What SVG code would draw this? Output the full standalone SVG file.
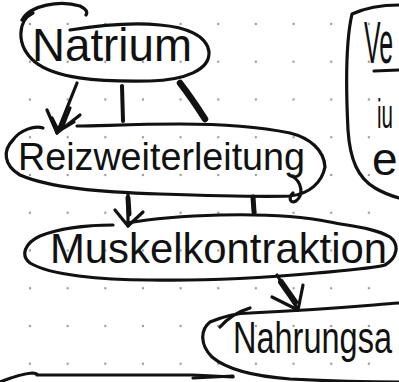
<svg xmlns="http://www.w3.org/2000/svg" width="399" height="382" viewBox="0 0 399 382">
<style>
.ink{fill:none;stroke:#111;stroke-width:3.2;stroke-linecap:round;stroke-linejoin:round}
.thick{fill:none;stroke:#111;stroke-width:6;stroke-linecap:round;stroke-linejoin:round}
.lbl{font-family:"Liberation Sans",Arial,sans-serif;fill:#111}
</style>
<defs>
<pattern id="dots" patternUnits="userSpaceOnUse" x="11.2" y="5.1" width="37.65" height="37.75">
<circle cx="18.8" cy="18.9" r="1.2" fill="#9a9a9a"/>
</pattern>
</defs>
<rect width="399" height="382" fill="#fff"/>
<rect width="399" height="382" fill="url(#dots)"/>

<g id="natrium">
<path class="ink" d="M22 20 C30 5 60 0 80 6 C86 9 88 12 86 15"/>
<path class="ink" d="M33 13 C18 20 15 45 35 62 C55 78 95 82 150 81 C185 80 210 70 209 52 C207 35 185 27 160 25 C130 22 95 26 70 30"/>
<text class="lbl" x="32" y="61" font-size="46" textLength="160" lengthAdjust="spacingAndGlyphs">Natrium</text>
</g>

<g id="reizweiterleitung">
<path class="ink" d="M43 128 C35 125 20 130 13 140 C3 150 3 165 20 175 C50 188 100 192 160 194 C220 196 260 197 290 196 C310 194 322 182 325 167 C324 150 310 138 290 133 C260 127 230 124 180 124 C130 124 100 126 77 126"/>
<path class="ink" d="M292 176 C302 182 304 195 296 201 C290 204 288 198 293 193"/>
<text class="lbl" x="18" y="170" font-size="38" textLength="287" lengthAdjust="spacingAndGlyphs">Reizweiterleitung</text>
</g>

<g id="muskelkontraktion">
<path class="ink" d="M113 225 C90 225 60 228 40 236 C25 243 20 255 30 263 C50 275 100 280 150 280 C200 281 260 278 317 273 C350 270 375 268 385 265 C397 258 400 245 390 237 C375 228 350 226 330 222 C300 216 260 214 220 215 C180 216 150 219 127 223"/>
<text class="lbl" x="50" y="263" font-size="42" textLength="337" lengthAdjust="spacingAndGlyphs">Muskelkontraktion</text>
</g>

<g id="nahrungsa">
<path class="ink" d="M399 303 C360 306 320 310 250 313 C235 313 222 317 210 322 C200 330 200 345 212 357 C225 368 250 376 290 379 C330 381 370 382 399 382"/>
<path class="ink" d="M220 327 C228 318 240 311 250 308"/>
<text class="lbl" x="233" y="353" font-size="44" textLength="159" lengthAdjust="spacingAndGlyphs">Nahrungsa</text>
</g>

<g id="ve-box">
<path class="ink" d="M399 5 C380 5 365 8 352 14 C346 40 346 90 348 130 C350 160 358 178 375 188 C385 194 392 196 399 198"/>
<text class="lbl" x="364" y="63" font-size="60" textLength="29" lengthAdjust="spacingAndGlyphs">Ve</text>
<path class="ink" d="M374 71 L399 70"/>
<text class="lbl" x="377" y="128" font-size="40" textLength="16" lengthAdjust="spacingAndGlyphs">iu</text>
<text class="lbl" x="372" y="175" font-size="46">e</text>
</g>

<g id="bottom-left">
<path class="ink" d="M0 382 C10 378 20 374 32 373 C36 373 38 375 37 375 L193 375 L233 377"/>
<path class="ink" d="M193 378 L233 376"/>
</g>

<g id="connectors">
<path class="ink" d="M77 83 L57 133"/>
<path class="ink" d="M47 110 L57 133 L80 115 M52 118 L58 130 M66 116 L60 130 M74 122 L59 131 M70 108 L62 128"/>
<path class="thick" d="M122 86 L123 121" style="stroke-width:4"/>
<path class="thick" d="M180 83 C190 96 198 108 205 119" style="stroke-width:6.5"/>
<path class="ink" d="M128 193 L128 226"/>
<path class="thick" d="M128 198 L129 214" style="stroke-width:5"/>
<path class="ink" d="M115 210 L128 226 L143 212"/>
<path class="thick" d="M253 197 L254 212" style="stroke-width:5"/>
<path class="ink" d="M277 275 L297 308"/>
<path class="thick" d="M281 282 L295 302" style="stroke-width:6"/>
<path class="ink" d="M272 297 L298 310 L303 285"/>
</g>
</svg>
